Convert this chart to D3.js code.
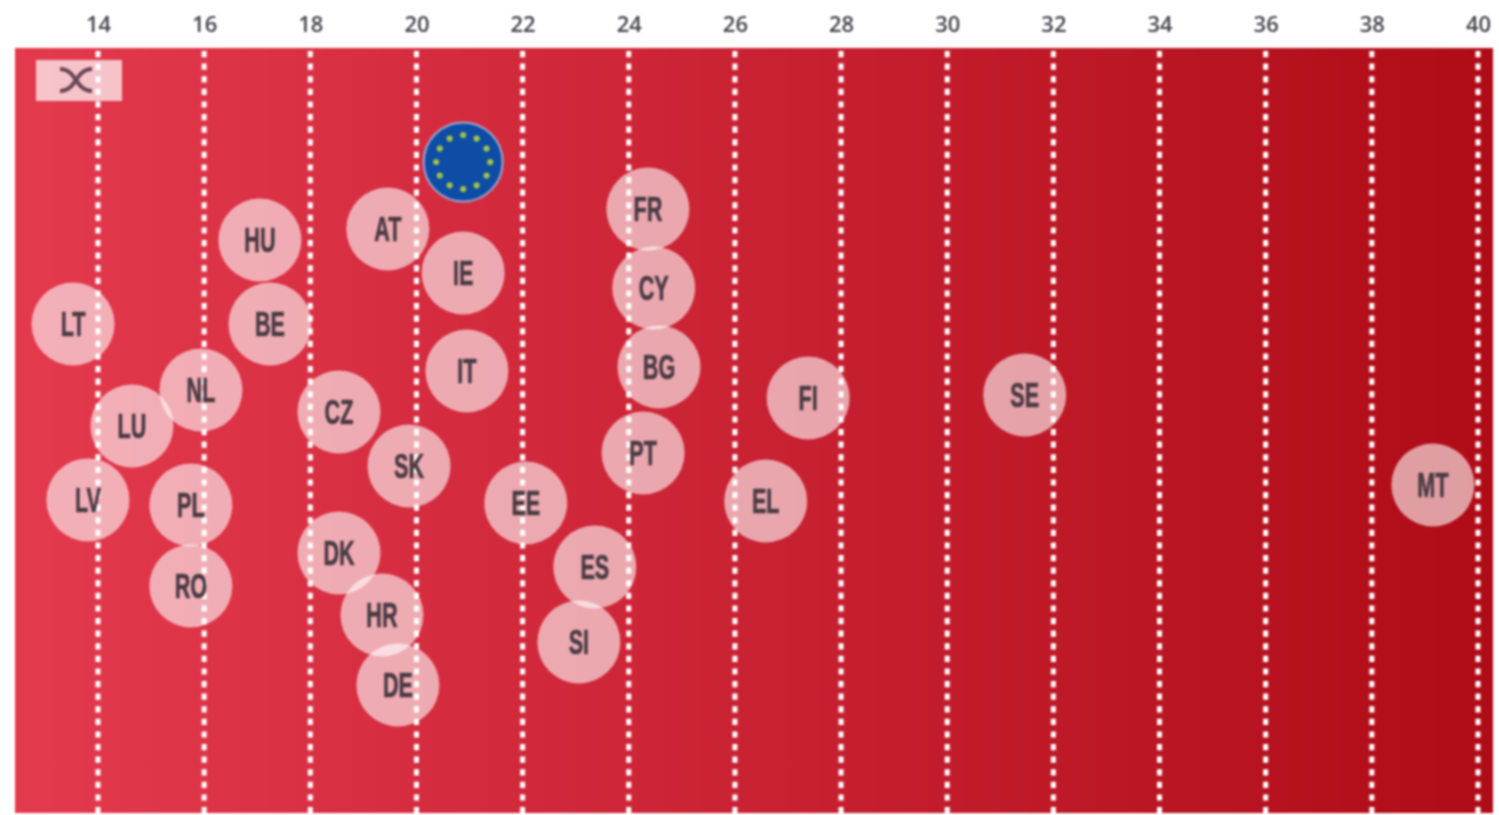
<!DOCTYPE html>
<html>
<head>
<meta charset="utf-8">
<script src="https://cdn.jsdelivr.net/npm/d3@7"></script>
<style>
  html, body { margin: 0; padding: 0; background: #fff; overflow: hidden; }
  svg { display: block; filter: blur(0.8px); }
  .tick text { font-family: "Open Sans", sans-serif; font-weight: 600; font-size: 22px; fill: #43434b; }
  .code { font-family: "Liberation Sans", sans-serif; font-weight: 700; font-size: 30px; fill: #4a3b44; stroke: #4a3b44; stroke-width: 0.6px; }
</style>
</head>
<body>
<svg id="chart" width="1499" height="815"></svg>
<script>
const ticks = [14, 16, 18, 20, 22, 24, 26, 28, 30, 32, 34, 36, 38, 40]

// share on the horizontal axis
const countries = ['FR', 'AT', 'HU', 'IE', 'CY', 'LT', 'BE', 'IT', 'BG', 'NL', 'FI', 'SE', 'CZ', 'LU',
  'PT', 'SK', 'MT', 'LV', 'PL', 'EE', 'EL', 'DK', 'ES', 'RO', 'HR', 'SI', 'DE']
const values = [24.36, 19.46, 17.05, 20.88, 24.47, 13.53, 17.24, 20.95, 24.57, 15.94, 27.38, 31.46, 18.54, 14.64,
  24.27, 19.86, 39.15, 13.81, 15.75, 22.06, 26.58, 18.54, 23.36, 15.75, 19.35, 23.06, 19.65]
// vertical spread of the swarm, 0 = top of the plot, 100 = bottom
const swarm = [21.05, 23.66, 25.1, 29.41, 31.37, 36.08, 36.08, 42.22, 41.7, 44.71, 45.75, 45.36, 47.58, 49.41,
  52.94, 54.64, 57.12, 59.08, 59.74, 59.48, 59.22, 66.01, 67.84, 70.33, 74.12, 77.65, 83.27]

const euValue = 20.88
const euSwarm = 14.9

const width = 1499, height = 815
const margin = {top: 48, right: 6, bottom: 2, left: 15}

const svg = d3.select('#chart')

const xScale = d3.scaleLinear().domain([14, 40]).range([98, 1478])
const yScale = d3.scaleLinear().domain([0, 100]).range([margin.top, height - margin.bottom])

// background gradient
const grad = svg.append('defs').append('linearGradient').attr('id', 'bg')
grad.append('stop').attr('offset', '0%').attr('stop-color', '#e43a4e')
grad.append('stop').attr('offset', '50%').attr('stop-color', '#c92233')
grad.append('stop').attr('offset', '100%').attr('stop-color', '#af0c17')

svg.append('rect')
  .attr('x', margin.left).attr('y', margin.top)
  .attr('width', width - margin.left - margin.right)
  .attr('height', height - margin.top - margin.bottom)
  .attr('fill', 'url(#bg)')

// tick labels on top
const xAxis = d3.axisTop(xScale).tickValues(ticks).tickSize(0).tickPadding(0).tickFormat(d3.format('d'))
svg.append('g')
  .attr('transform', 'translate(0,32)')
  .call(xAxis)
  .call(g => g.select('.domain').remove())

// dotted grid lines
svg.append('g').selectAll('line').data(ticks).enter().append('line')
  .attr('x1', d => xScale(d)).attr('x2', d => xScale(d))
  .attr('y1', margin.top + 3).attr('y2', height - margin.bottom)
  .attr('stroke', '#fff').attr('stroke-width', 5)
  .attr('stroke-dasharray', '6.2 6.4')

// shuffle button
const btn = svg.append('g')
btn.append('rect').attr('x', 36).attr('y', 60).attr('width', 86).attr('height', 41)
  .attr('fill', '#fff').attr('fill-opacity', 0.7)
btn.append('path')
  .attr('d', 'M60 69 C77 69 75 91 92 91 M60 91 C77 91 75 69 92 69')
  .attr('fill', 'none').attr('stroke', '#6a4656').attr('stroke-width', 4)

// country bubbles
const bubbles = svg.append('g').selectAll('g').data(countries).enter().append('g')
  .attr('transform', (d, i) => `translate(${xScale(values[i])},${yScale(swarm[i])})`)
bubbles.append('circle').attr('r', 41.5).attr('fill', '#fff').attr('fill-opacity', 0.6)
bubbles.append('text').attr('class', 'code')
  .attr('text-anchor', 'middle').attr('dy', '0.34em')
  .attr('transform', 'scale(0.72,1.16)')
  .text(d => d)

// EU marker
const eu = svg.append('g').attr('transform', `translate(${xScale(euValue)},${yScale(euSwarm)})`)
eu.append('circle').attr('r', 39.5).attr('fill', '#0d4da5').attr('stroke', '#9fa8d6').attr('stroke-width', 2)
const star = d3.symbol().type(d3.symbolCircle).size(30)
eu.selectAll('path').data(d3.range(12)).enter().append('path')
  .attr('d', star)
  .attr('fill', '#a3c24a')
  .attr('transform', d => `translate(${27 * Math.cos(d * Math.PI / 6)},${27 * Math.sin(d * Math.PI / 6)})`)
</script>
</body>
</html>
